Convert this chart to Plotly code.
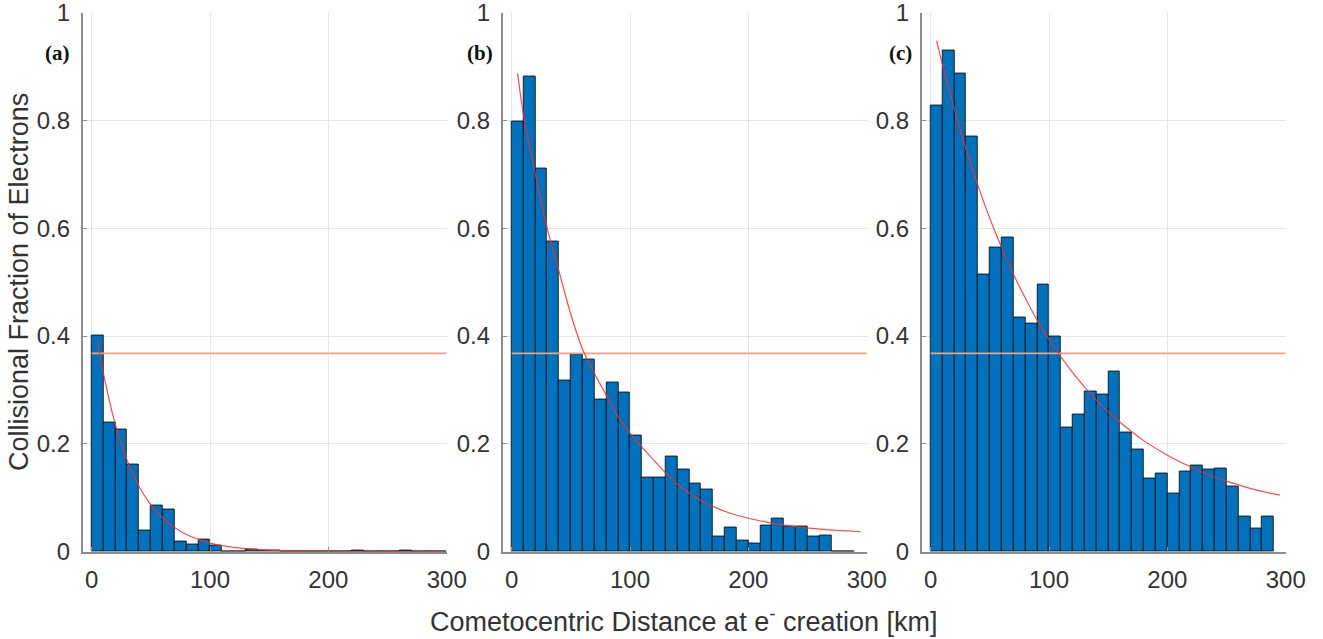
import plotly.graph_objects as go

# ---------------- data ----------------
bin_width = 10  # km
bin_start = 0

frac_a = [0.401, 0.240, 0.226, 0.162, 0.040, 0.085, 0.078, 0.018, 0.013, 0.022,
          0.011, 0.000, 0.000, 0.004, 0.003, 0.003, 0.001, 0.001, 0.001, 0.001,
          0.001, 0.001, 0.003, 0.001, 0.001, 0.001, 0.003, 0.001, 0.001, 0.001]
frac_b = [0.798, 0.882, 0.711, 0.576, 0.318, 0.365, 0.357, 0.283, 0.313, 0.296,
          0.216, 0.137, 0.137, 0.177, 0.152, 0.126, 0.115, 0.028, 0.044, 0.021,
          0.016, 0.048, 0.062, 0.046, 0.046, 0.028, 0.030, 0.000, 0.000]
frac_c = [0.827, 0.930, 0.887, 0.770, 0.514, 0.565, 0.582, 0.435, 0.424, 0.496,
          0.400, 0.230, 0.255, 0.298, 0.291, 0.335, 0.221, 0.189, 0.135, 0.145,
          0.108, 0.149, 0.160, 0.152, 0.155, 0.121, 0.065, 0.043, 0.066]

fit_x = [5, 10, 20, 30, 40, 50, 60, 70, 80, 90, 100, 120, 140, 160, 180, 200,
         220, 240, 260, 280, 295]
fit_a = [0.389, 0.330, 0.236, 0.169, 0.121, 0.087, 0.062, 0.045, 0.032, 0.023,
         0.016, 0.008, 0.004, 0.002, 0.001, 0.0006, 0.0003, 0.0002, 0.0001, 0.0001, 0.0]
fit_b = [0.887, 0.810, 0.700, 0.600, 0.520, 0.440, 0.375, 0.330, 0.290, 0.250,
         0.220, 0.170, 0.125, 0.095, 0.075, 0.062, 0.053, 0.046, 0.042, 0.039, 0.037]
fit_c = [0.948, 0.903, 0.821, 0.746, 0.679, 0.618, 0.564, 0.514, 0.470, 0.429,
         0.393, 0.332, 0.281, 0.240, 0.206, 0.179, 0.157, 0.138, 0.124, 0.112, 0.105]

efold_level = [0.3679]
efold_x = [0, 300]

panel_labels = ["(a)", "(b)", "(c)"]
x_ticks = [0, 100, 200, 300]
y_ticks = [0, 0.2, 0.4, 0.6, 0.8, 1]
x_title = "Cometocentric Distance at e<sup>-</sup> creation [km]"
y_title = "Collisional Fraction of Electrons"

# ---------------- figure ----------------
W, H = 1323, 639
left_px = [82.7, 502.7, 921.7]
panel_w = 364.0
top_px, bot_px = 12.5, 551.7

fig = go.Figure()
series = [frac_a, frac_b, frac_c]
fits = [fit_a, fit_b, fit_c]

for i in range(3):
    xs = "x" if i == 0 else f"x{i+1}"
    ys = "y" if i == 0 else f"y{i+1}"
    vals = series[i]
    centers = [bin_start + bin_width * (k + 0.5) for k in range(len(vals))]
    fig.add_trace(go.Bar(
        x=centers, y=vals, width=bin_width, xaxis=xs, yaxis=ys,
        marker=dict(color="#0072BD", line=dict(color="#111111", width=0.9)),
        showlegend=False, hoverinfo="x+y"))
    fig.add_trace(go.Scatter(
        x=efold_x, y=efold_level * 2, xaxis=xs, yaxis=ys, mode="lines",
        line=dict(color="#F2A084", width=1.6), showlegend=False))
    fig.add_trace(go.Scatter(
        x=fit_x, y=fits[i], xaxis=xs, yaxis=ys, mode="lines",
        line=dict(color="rgba(255,40,40,0.85)", width=1.2, shape="spline"),
        showlegend=False))

axis_common = dict(
    showline=True, linecolor="#8c8c8c", linewidth=1.5, mirror=False,
    ticks="inside", ticklen=5, tickcolor="#8c8c8c", tickwidth=1,
    showgrid=True, gridcolor="#e6e6e6", gridwidth=1, zeroline=False,
    tickfont=dict(family="Liberation Sans, Arial", size=24, color="#333333"),
    ticklabeloverflow="allow",
)

y0 = 1 - bot_px / H
y1 = 1 - top_px / H
layout = dict(
    width=W, height=H, margin=dict(l=0, r=0, t=0, b=0),
    plot_bgcolor="white", paper_bgcolor="white", bargap=0,
)
for i in range(3):
    xa = "xaxis" if i == 0 else f"xaxis{i+1}"
    ya = "yaxis" if i == 0 else f"yaxis{i+1}"
    xs = "x" if i == 0 else f"x{i+1}"
    ys = "y" if i == 0 else f"y{i+1}"
    layout[xa] = dict(axis_common, domain=[left_px[i] / W, (left_px[i] + panel_w) / W],
                      range=[-7.6, 300], tickvals=x_ticks, anchor=ys,
                      ticklabelstandoff=6, automargin=False)
    layout[ya] = dict(axis_common, domain=[y0, y1], range=[0, 1], tickvals=y_ticks,
                      anchor=xs, ticklabelstandoff=6, automargin=False)
fig.update_layout(**layout)

label_cx = [57, 479.5, 900]
for i in range(3):
    fig.add_annotation(
        x=label_cx[i] / W, y=1 - 53 / H, xref="paper", yref="paper",
        text=f"<b>{panel_labels[i]}</b>", showarrow=False,
        font=dict(family="Liberation Serif, Times New Roman", size=21, color="#111111"),
        xanchor="center", yanchor="middle")

fig.add_annotation(
    x=684 / W, y=1 - 620 / H, xref="paper", yref="paper", text=x_title,
    showarrow=False, xanchor="center", yanchor="middle",
    font=dict(family="Liberation Sans, Arial", size=27, color="#333333"))
fig.add_annotation(
    x=19 / W, y=1 - 282 / H, xref="paper", yref="paper", text=y_title,
    showarrow=False, textangle=-90, xanchor="center", yanchor="middle",
    font=dict(family="Liberation Sans, Arial", size=27, color="#333333"))

fig.write_html(
    "out.html",
    config={"displayModeBar": False},
    post_script="document.body.style.margin='0px';document.body.style.overflow='hidden';",
)
